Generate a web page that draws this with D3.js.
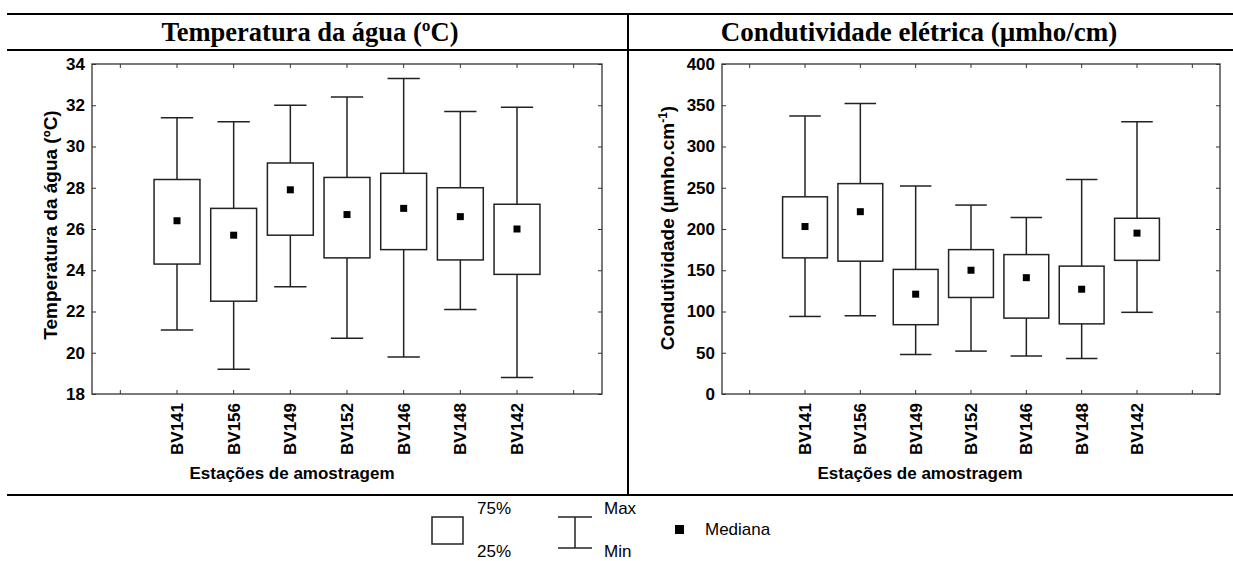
<!DOCTYPE html>
<html>
<head>
<meta charset="utf-8">
<script src="https://cdn.jsdelivr.net/npm/d3@7"></script>
<style>
  body { margin: 0; background: #fff; }
  svg text { font-family: "Liberation Sans", Arial, sans-serif; }
  .tick line { stroke: #333; }
  .domain { stroke: none; }
</style>
</head>
<body>
<div id="chart"></div>
<script>
// Stations (x categories)
var stations = ["BV141", "BV156", "BV149", "BV152", "BV146", "BV148", "BV142"];

// Water temperature (ºC)
var tempMin = [21.1, 19.2, 23.2, 20.7, 19.8, 22.1, 18.8];
var tempQ1  = [24.3, 22.5, 25.7, 24.6, 25.0, 24.5, 23.8];
var tempMed = [26.4, 25.7, 27.9, 26.7, 27.0, 26.6, 26.0];
var tempQ3  = [28.4, 27.0, 29.2, 28.5, 28.7, 28.0, 27.2];
var tempMax = [31.4, 31.2, 32.0, 32.4, 33.3, 31.7, 31.9];
var tempTicks = [18, 20, 22, 24, 26, 28, 30, 32, 34];

// Electrical conductivity (µmho/cm)
var condMin = [94, 95, 48, 52, 46, 43, 99];
var condQ1  = [165, 161, 84, 117, 92, 85, 162];
var condMed = [203, 221, 121, 150, 141, 127, 195];
var condQ3  = [239, 255, 151, 175, 169, 155, 213];
var condMax = [337, 352, 252, 229, 214, 260, 330];
var condTicks = [0, 50, 100, 150, 200, 250, 300, 350, 400];

var svgWidth = 1233;
var svgHeight = 561;

var svg = d3.select("#chart")
  .append("svg")
  .attr("width", svgWidth)
  .attr("height", svgHeight);

// frame lines of the figure table
var frame = svg.append("g").attr("stroke", "#000").attr("stroke-width", 2);
frame.append("line").attr("x1", 7).attr("x2", 1233).attr("y1", 14).attr("y2", 14);
frame.append("line").attr("x1", 7).attr("x2", 1233).attr("y1", 50).attr("y2", 50);
frame.append("line").attr("x1", 7).attr("x2", 1233).attr("y1", 495).attr("y2", 495);
frame.append("line").attr("x1", 628).attr("x2", 628).attr("y1", 14).attr("y2", 495);

// panel titles
svg.append("text")
  .attr("x", 310).attr("y", 41)
  .attr("text-anchor", "middle")
  .style("font-family", "'Liberation Serif', 'Times New Roman', serif")
  .style("font-weight", "bold")
  .style("font-size", "26.5px")
  .text("Temperatura da água (ºC)");

svg.append("text")
  .attr("x", 919).attr("y", 41)
  .attr("text-anchor", "middle")
  .style("font-family", "'Liberation Serif', 'Times New Roman', serif")
  .style("font-weight", "bold")
  .style("font-size", "27px")
  .text("Condutividade elétrica (µmho/cm)");

// one box plot panel
function drawPanel(opt) {
  var slots = ["pad0"].concat(stations, ["pad1"]);
  var w = opt.right - opt.left;
  var h = 394 - 64;

  var g = svg.append("g").attr("transform", `translate(${opt.left}, 64)`);

  var x = d3.scaleBand().domain(slots).range([0, w]);
  var y = d3.scaleLinear().domain(opt.domain).range([h, 0]);

  var fmt = d => (d.indexOf("pad") === 0 ? "" : d);

  // bottom axis with rotated labels, ticks inward
  var xAxis = g.append("g")
    .attr("transform", `translate(0, ${h})`)
    .call(d3.axisBottom(x).tickSize(-4).tickPadding(0).tickFormat(fmt));
  xAxis.selectAll("text")
    .attr("transform", "rotate(-90)")
    .attr("x", -9)
    .attr("y", 0)
    .attr("dy", "0.36em")
    .attr("text-anchor", "end")
    .attr("fill", "#000")
    .style("font-size", "17px")
    .style("font-weight", "bold");

  // top ticks
  g.append("g")
    .call(d3.axisTop(x).tickSize(-4).tickFormat(""));

  // left axis
  var yAxis = g.append("g")
    .call(d3.axisLeft(y).tickValues(opt.ticks).tickSize(-4).tickPadding(7));
  yAxis.selectAll("text")
    .attr("fill", "#000")
    .style("font-size", "17px")
    .style("font-weight", "bold");

  // right ticks
  g.append("g")
    .attr("transform", `translate(${w}, 0)`)
    .call(d3.axisRight(y).tickValues(opt.ticks).tickSize(-4).tickFormat(""));

  // plot border
  g.append("rect")
    .attr("x", 0).attr("y", 0)
    .attr("width", w).attr("height", h)
    .attr("fill", "none")
    .attr("stroke", "#333")
    .attr("stroke-width", 1.3);

  var boxW = x.bandwidth() * 0.81;
  var capW = x.bandwidth() * 0.57;

  var boxes = g.append("g").selectAll("g")
    .data(stations)
    .enter()
    .append("g")
    .attr("transform", d => `translate(${x(d) + x.bandwidth() / 2}, 0)`);

  // whisker
  boxes.append("line")
    .attr("x1", 0).attr("x2", 0)
    .attr("y1", (d, i) => y(opt.max[i]))
    .attr("y2", (d, i) => y(opt.min[i]))
    .attr("stroke", "#222").attr("stroke-width", 1.5);

  boxes.append("line")
    .attr("x1", -capW / 2).attr("x2", capW / 2)
    .attr("y1", (d, i) => y(opt.max[i]))
    .attr("y2", (d, i) => y(opt.max[i]))
    .attr("stroke", "#222").attr("stroke-width", 1.5);

  boxes.append("line")
    .attr("x1", -capW / 2).attr("x2", capW / 2)
    .attr("y1", (d, i) => y(opt.min[i]))
    .attr("y2", (d, i) => y(opt.min[i]))
    .attr("stroke", "#222").attr("stroke-width", 1.5);

  // quartile box
  boxes.append("rect")
    .attr("x", -boxW / 2)
    .attr("width", boxW)
    .attr("y", (d, i) => y(opt.q3[i]))
    .attr("height", (d, i) => y(opt.q1[i]) - y(opt.q3[i]))
    .attr("fill", "#fff")
    .attr("stroke", "#222").attr("stroke-width", 1.5);

  // median marker
  boxes.append("rect")
    .attr("x", -3.5).attr("width", 7)
    .attr("y", (d, i) => y(opt.med[i]) - 3.5)
    .attr("height", 7)
    .attr("fill", "#000");

  // axis titles
  g.append("text")
    .attr("x", opt.xTitleX - opt.left)
    .attr("y", 479 - 64)
    .attr("text-anchor", "middle")
    .style("font-size", "17px")
    .style("font-weight", "bold")
    .text("Estações de amostragem");

  var yt = g.append("text")
    .attr("transform", `translate(${opt.yTitleX - opt.left}, ${opt.yTitleY - 64}) rotate(-90)`)
    .attr("text-anchor", "middle")
    .style("font-size", "19px")
    .style("font-weight", "bold");
  opt.yTitle(yt);
}

drawPanel({
  left: 92, right: 602,
  domain: [18, 34], ticks: tempTicks,
  min: tempMin, q1: tempQ1, med: tempMed, q3: tempQ3, max: tempMax,
  xTitleX: 292, yTitleX: 57, yTitleY: 225,
  yTitle: function(t) { t.text("Temperatura da água (ºC)"); }
});

drawPanel({
  left: 722, right: 1220,
  domain: [0, 400], ticks: condTicks,
  min: condMin, q1: condQ1, med: condMed, q3: condQ3, max: condMax,
  xTitleX: 920, yTitleX: 674, yTitleY: 228,
  yTitle: function(t) {
    t.append("tspan").text("Condutividade (µmho.cm");
    t.append("tspan").attr("baseline-shift", "super").style("font-size", "12px").text("-1");
    t.append("tspan").text(")");
  }
});

// legend
var legend = svg.append("g").style("font-size", "17px");
legend.append("rect")
  .attr("x", 432).attr("y", 517).attr("width", 31).attr("height", 27)
  .attr("fill", "none").attr("stroke", "#222").attr("stroke-width", 1.5);
legend.append("text").attr("x", 477).attr("y", 514).text("75%");
legend.append("text").attr("x", 477).attr("y", 557).text("25%");

var wl = legend.append("g").attr("stroke", "#222").attr("stroke-width", 1.5);
wl.append("line").attr("x1", 558).attr("x2", 592).attr("y1", 517).attr("y2", 517);
wl.append("line").attr("x1", 558).attr("x2", 592).attr("y1", 548).attr("y2", 548);
wl.append("line").attr("x1", 575).attr("x2", 575).attr("y1", 517).attr("y2", 548);
legend.append("text").attr("x", 604).attr("y", 514).text("Max");
legend.append("text").attr("x", 604).attr("y", 557).text("Min");

legend.append("rect")
  .attr("x", 675).attr("y", 525).attr("width", 9).attr("height", 9)
  .attr("fill", "#000");
legend.append("text").attr("x", 705).attr("y", 535).text("Mediana");
</script>
</body>
</html>
